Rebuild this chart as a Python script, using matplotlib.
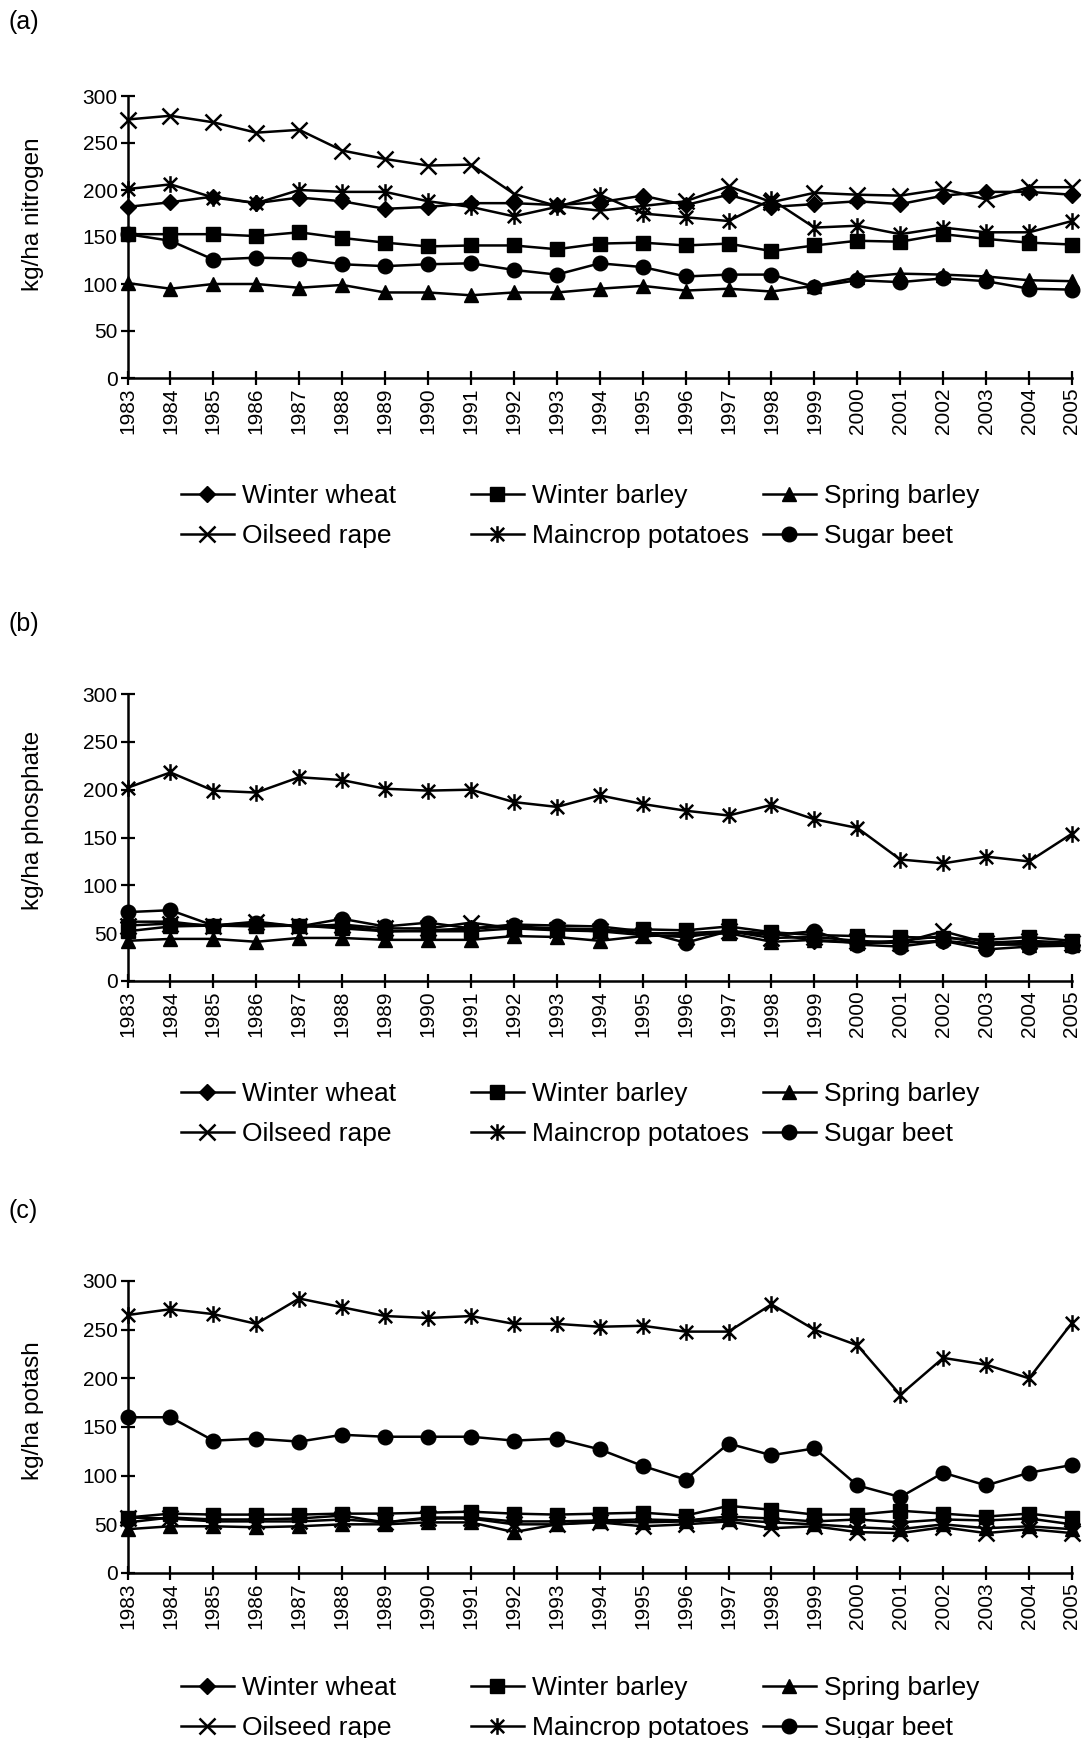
import matplotlib.pyplot as plt
from matplotlib.path import Path

plt.rcParams['font.family'] = ['Liberation Sans', 'DejaVu Sans']

years = list(range(1983, 2006))
crops = ['Winter wheat', 'Winter barley', 'Spring barley',
         'Oilseed rape', 'Maincrop potatoes', 'Sugar beet']

# (a) nitrogen, kg/ha
n_wheat = [182, 187, 193, 186, 192, 188, 180, 182, 186, 186, 184, 187, 194, 184, 195, 182, 185, 188, 185, 194, 198, 198, 195]
n_wbarley = [153, 153, 153, 151, 155, 149, 144, 140, 141, 141, 137, 143, 144, 141, 143, 135, 141, 146, 145, 153, 148, 144, 142]
n_sbarley = [101, 95, 100, 100, 96, 99, 91, 91, 88, 91, 91, 95, 98, 93, 95, 92, 98, 107, 111, 110, 108, 104, 103]
n_rape = [275, 279, 272, 261, 264, 242, 233, 226, 227, 196, 183, 178, 183, 188, 204, 187, 197, 195, 194, 201, 190, 203, 203]
n_potato = [201, 206, 192, 186, 200, 198, 198, 188, 182, 172, 182, 195, 175, 171, 167, 190, 160, 162, 153, 160, 155, 155, 167]
n_beet = [153, 146, 126, 128, 127, 121, 119, 121, 122, 115, 110, 122, 118, 108, 110, 110, 97, 104, 102, 106, 103, 95, 94]

# (b) phosphate, kg/ha
p_wheat = [62, 62, 57, 60, 57, 58, 52, 53, 55, 57, 55, 54, 50, 50, 52, 50, 42, 40, 40, 42, 38, 40, 38]
p_wbarley = [52, 57, 58, 57, 58, 55, 52, 52, 52, 55, 54, 52, 54, 53, 57, 51, 48, 47, 46, 45, 43, 46, 42]
p_sbarley = [42, 44, 44, 41, 45, 45, 43, 43, 43, 47, 46, 42, 47, 48, 50, 41, 43, 40, 42, 47, 38, 38, 38]
p_rape = [58, 60, 58, 62, 57, 59, 55, 55, 61, 55, 53, 52, 48, 46, 52, 45, 46, 42, 40, 52, 40, 42, 40]
p_potato = [202, 218, 199, 197, 213, 210, 201, 199, 200, 187, 182, 194, 185, 178, 173, 184, 169, 160, 127, 123, 130, 125, 154]
p_beet = [72, 74, 58, 61, 57, 65, 57, 61, 55, 59, 58, 57, 52, 40, 52, 48, 52, 38, 36, 42, 33, 36, 37]

# (c) potash, kg/ha
k_wheat = [52, 57, 55, 55, 56, 59, 52, 57, 57, 53, 53, 54, 55, 54, 58, 56, 53, 55, 52, 55, 54, 56, 50]
k_wbarley = [57, 61, 60, 60, 60, 61, 61, 62, 63, 61, 60, 61, 62, 59, 69, 65, 60, 60, 64, 61, 58, 61, 56]
k_sbarley = [45, 48, 48, 47, 48, 50, 50, 52, 52, 42, 50, 53, 52, 53, 55, 52, 50, 47, 45, 50, 46, 48, 45]
k_rape = [57, 56, 53, 53, 53, 55, 52, 56, 56, 50, 50, 52, 48, 50, 53, 46, 48, 42, 41, 47, 41, 45, 41]
k_potato = [265, 271, 266, 256, 282, 273, 264, 262, 264, 256, 256, 253, 254, 248, 248, 276, 250, 234, 183, 221, 214, 200, 257]
k_beet = [160, 160, 136, 138, 135, 142, 140, 140, 140, 136, 138, 127, 110, 96, 133, 121, 128, 90, 78, 103, 90, 103, 111]

# asterisk: an X with a vertical bar through it
asterisk = Path([(-1, -1), (1, 1), (-1, 1), (1, -1), (0, -1.25), (0, 1.25)],
                [Path.MOVETO, Path.LINETO, Path.MOVETO, Path.LINETO, Path.MOVETO, Path.LINETO])

styles = [
    dict(marker='D', ms=8.5, mfc='black'),
    dict(marker='s', ms=10.5, mfc='black'),
    dict(marker='^', ms=10.5, mfc='black'),
    dict(marker='x', ms=11, mew=1.8, mfc='none'),
    dict(marker=asterisk, ms=12, mew=1.8, mfc='none'),
    dict(marker='o', ms=10.5, mfc='black'),
]

panels = [
    ('(a)', 'kg/ha nitrogen', [n_wheat, n_wbarley, n_sbarley, n_rape, n_potato, n_beet]),
    ('(b)', 'kg/ha phosphate', [p_wheat, p_wbarley, p_sbarley, p_rape, p_potato, p_beet]),
    ('(c)', 'kg/ha potash', [k_wheat, k_wbarley, k_sbarley, k_rape, k_potato, k_beet]),
]

W, H = 1083, 1738
fig = plt.figure(figsize=(W / 100, H / 100), dpi=100)

# axis boxes in pixels: top (300), bottom (0), panel tag y, legend mid y, ylabel centre
boxes = [(96, 378, 22, 516, 0.58), (694, 981, 624, 1114, 0.56), (1281, 1573, 1211, 1708, 0.555)]
left, right = 127.5, 1072
legend_x = [181, 471, 763]

for (tag, ylab, series), (top, bot, tag_y, leg_y, lab_y) in zip(panels, boxes):
    ax = fig.add_axes([left / W, 1 - bot / H, (right - left) / W, (bot - top) / H])
    handles = []
    for name, vals, st in zip(crops, series, styles):
        h, = ax.plot(years, vals, color='black', lw=1.8, mec='black',
                     clip_on=False, label=name, **st)
        handles.append(h)
    ax.set_xlim(1983, 2005)
    ax.set_ylim(0, 300)
    ax.set_yticks(range(0, 301, 50))
    ax.set_xticks(years)
    ax.set_xticklabels([str(y) for y in years], rotation=90)
    for s in ['top', 'right']:
        ax.spines[s].set_visible(False)
    for s in ['left', 'bottom']:
        ax.spines[s].set_linewidth(1.8)
    ax.tick_params(direction='inout', length=10, width=1.6, labelsize=15, pad=2)
    ax.set_ylabel(ylab, fontsize=17.5)
    ax.yaxis.set_label_coords(-0.088, lab_y)
    fig.text(9 / W, 1 - tag_y / H, tag, fontsize=18, va='center', ha='left')

    # legend in three columns of two rows
    for col in range(3):
        fig.legend([handles[col], handles[col + 3]], [crops[col], crops[col + 3]],
                   loc='center left', bbox_to_anchor=(legend_x[col] / W, 1 - leg_y / H),
                   frameon=False, fontsize=19, borderpad=0, borderaxespad=0,
                   handlelength=2.0, handletextpad=0.3, labelspacing=0.62)

fig.savefig('out.png', dpi=100)
